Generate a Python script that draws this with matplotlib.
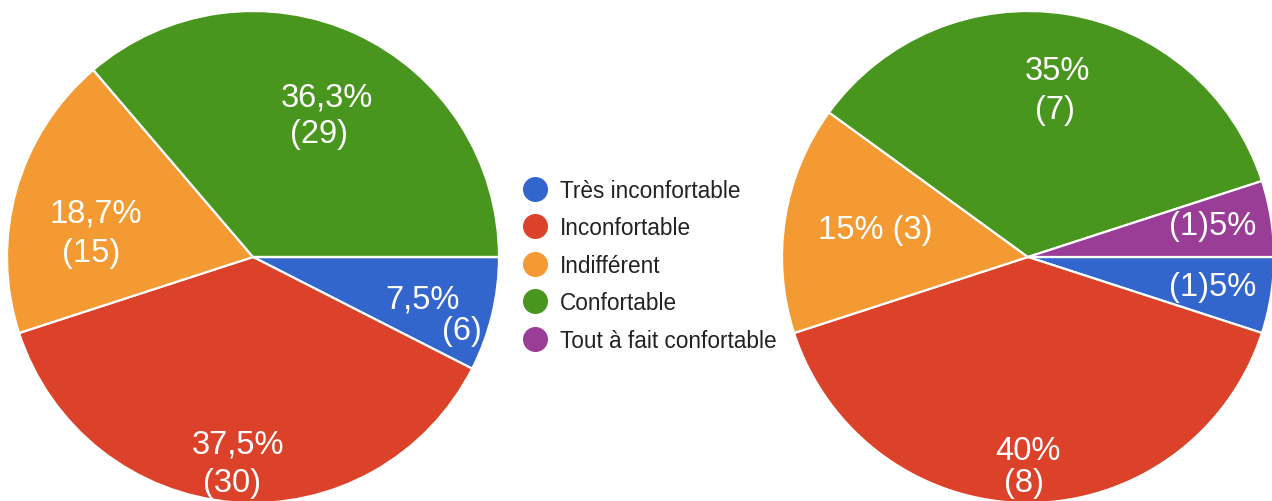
import matplotlib.pyplot as plt
from matplotlib.lines import Line2D

plt.rcParams['font.family'] = ['Liberation Sans', 'DejaVu Sans']

# categories et couleurs
categories = ['Très inconfortable', 'Inconfortable', 'Indifférent',
              'Confortable', 'Tout à fait confortable']
colors = ['#3366CC', '#DC4129', '#F39A33', '#48961D', '#993D96']

# effectifs des deux questionnaires
left_counts = [6, 30, 15, 29, 0]
right_counts = [1, 8, 3, 7, 1]

# textes affichés sur les parts (pourcentage, effectif)
left_texts = ['7,5%', '(6)', '37,5%', '(30)', '18,7%', '(15)', '36,3%', '(29)']
right_texts = ['(1)5%', '40%', '(8)', '15% (3)', '35%', '(7)', '(1)5%']

# positions des textes, en rayons depuis le centre
left_pos = [(0.69, -0.17), (0.85, -0.30), (-0.06, -0.76), (-0.085, -0.915),
            (-0.64, 0.18), (-0.66, 0.02), (0.30, 0.65), (0.27, 0.50)]
right_pos = [(0.75, -0.12), (0.0, -0.785), (-0.016, -0.915), (-0.62, 0.11),
             (0.12, 0.76), (0.11, 0.60), (0.75, 0.13)]

W, H = 1272, 502
fig = plt.figure(figsize=(W / 100, H / 100), dpi=100)

r = 246
def make_ax(cx, cy):
    return fig.add_axes([(cx - r) / W, (H - cy - r) / H, 2 * r / W, 2 * r / H])

ax1 = make_ax(253, 258)
ax2 = make_ax(1028, 258)

for ax, counts, texts, pos in [(ax1, left_counts, left_texts, left_pos),
                               (ax2, right_counts, right_texts, right_pos)]:
    ax.pie(counts, colors=colors, startangle=0, counterclock=False,
           radius=1, wedgeprops=dict(edgecolor='white', linewidth=1.6))
    for t, (dx, dy) in zip(texts, pos):
        ax.text(dx, dy, t, color='white', fontsize=23.5, ha='center', va='center')
    ax.set_xlim(-1, 1)
    ax.set_ylim(-1, 1)
    ax.set_aspect('equal')
    ax.axis('off')

handles = [Line2D([], [], marker='o', linestyle='', markersize=17,
                  markerfacecolor=c, markeredgecolor=c) for c in colors]
fig.legend(handles, categories, loc='center', bbox_to_anchor=(0.511, 0.470),
           frameon=False, fontsize=16.3, handlelength=1.0, handletextpad=0.6,
           labelspacing=0.64, labelcolor='#222222')

fig.savefig('out.png', dpi=100)
